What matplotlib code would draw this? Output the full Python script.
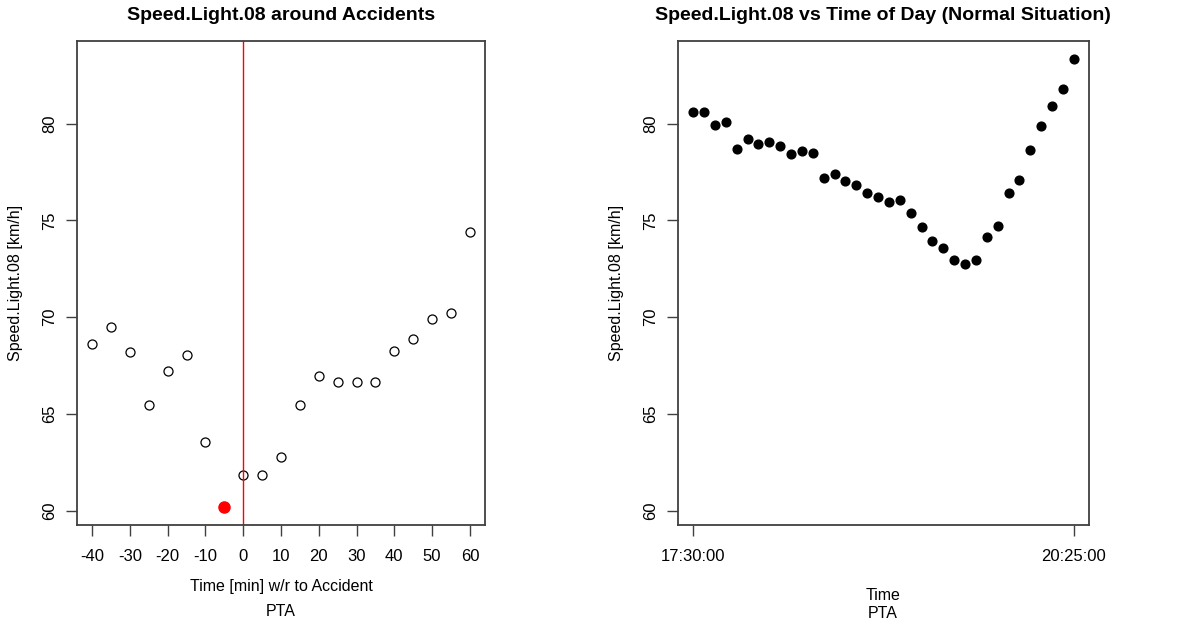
import matplotlib
matplotlib.use("Agg")
import matplotlib.pyplot as plt
import numpy as np

plt.rcParams['font.family'] = ['Liberation Sans', 'DejaVu Sans']

# ---- data ----
acc_minutes = [-40, -35, -30, -25, -20, -15, -10, -5, 0, 5, 10, 15, 20, 25, 30, 35, 40, 45, 50, 55, 60]
acc_speed = [68.6, 69.5, 68.2, 65.44, 67.24, 68.05, 63.56, 60.19, 61.83, 61.83, 62.8,
             65.44, 66.96, 66.63, 66.63, 66.63, 68.25, 68.9, 69.93, 70.2, 74.4]
accident_minute = -5

normal_speed = [80.59, 80.59, 79.93, 80.1, 78.69, 79.19, 78.96, 79.08, 78.86, 78.43, 78.6, 78.48,
                77.19, 77.41, 77.03, 76.82, 76.42, 76.2, 75.94, 76.06, 75.41, 74.65, 73.94, 73.56,
                72.97, 72.75, 72.97, 74.16, 74.7, 76.42, 77.08, 78.64, 79.88, 80.93, 81.8, 83.35]
time_tick_labels = ["17:30:00", "20:25:00"]

left_title = "Speed.Light.08 around Accidents"
right_title = "Speed.Light.08 vs Time of Day (Normal Situation)"
ylab = "Speed.Light.08 [km/h]"

W, H = 1195, 626
fig = plt.figure(figsize=(W / 100, H / 100), dpi=100)

def ax_rect(x0, x1, y0, y1):
    return [x0 / W, 1 - y1 / H, (x1 - x0) / W, (y1 - y0) / H]

axL = fig.add_axes(ax_rect(77, 485, 41, 525))
axR = fig.add_axes(ax_rect(678, 1089, 41, 525))

allv = acc_speed + normal_speed
ymin, ymax = min(allv), max(allv)
pad = 0.04 * (ymax - ymin)
ylim = (ymin - pad, ymax + pad)

frame_col = '#404040'
tick_fs = 12
lab_fs = 11.5

for ax in (axL, axR):
    ax.set_ylim(*ylim)
    ax.set_yticks([60, 65, 70, 75, 80])
    ax.set_yticklabels(['60', '65', '70', '75', '80'], rotation=90, va='center', fontsize=tick_fs)
    for s in ax.spines.values():
        s.set_color(frame_col)
        s.set_linewidth(1.3)
    ax.tick_params(axis='both', length=8, width=1, color=frame_col, labelsize=tick_fs)
    ax.tick_params(axis='y', pad=6)
    ax.tick_params(axis='x', pad=9)

# left panel
xs = np.array(acc_minutes)
ys = np.array(acc_speed)
mask = xs != accident_minute
axL.plot(xs[mask], ys[mask], 'o', mfc='none', mec='black', ms=6.5, mew=0.9)
axL.plot(xs[~mask], ys[~mask], 'o', color='red', ms=8)
axL.axvline(0, color='red', lw=1)
xr = max(acc_minutes) - min(acc_minutes)
axL.set_xlim(min(acc_minutes) - 0.04 * xr, max(acc_minutes) + 0.04 * xr)
axL.set_xticks(acc_minutes[::2])
axL.set_xticklabels([str(v) for v in acc_minutes[::2]], fontsize=tick_fs)

# right panel
xi = np.arange(len(normal_speed))
axR.plot(xi, normal_speed, 'o', color='black', ms=6.3)
n = len(normal_speed) - 1
axR.set_xlim(-0.04 * n, n + 0.04 * n)
axR.set_xticks([0, n])
axR.set_xticklabels(time_tick_labels, fontsize=tick_fs)

# titles
fig.text(281 / W, 1 - 16 / H, left_title, ha='center', va='center', fontsize=14, fontweight='bold')
fig.text(883 / W, 1 - 16 / H, right_title, ha='center', va='center', fontsize=14, fontweight='bold')

# y labels
fig.text(16 / W, 1 - 283 / H, ylab, rotation=90, ha='center', va='center', fontsize=lab_fs)
fig.text(617 / W, 1 - 283 / H, ylab, rotation=90, ha='center', va='center', fontsize=lab_fs)

# x labels
fig.text(281 / W, 1 - 586 / H, "Time [min] w/r to Accident", ha='center', va='center', fontsize=lab_fs)
fig.text(281 / W, 1 - 612 / H, "PTA", ha='center', va='center', fontsize=lab_fs)
fig.text(883 / W, 1 - 596 / H, "Time", ha='center', va='center', fontsize=lab_fs)
fig.text(883 / W, 1 - 614 / H, "PTA", ha='center', va='center', fontsize=lab_fs)

fig.savefig("out.png", dpi=100, facecolor='white')
